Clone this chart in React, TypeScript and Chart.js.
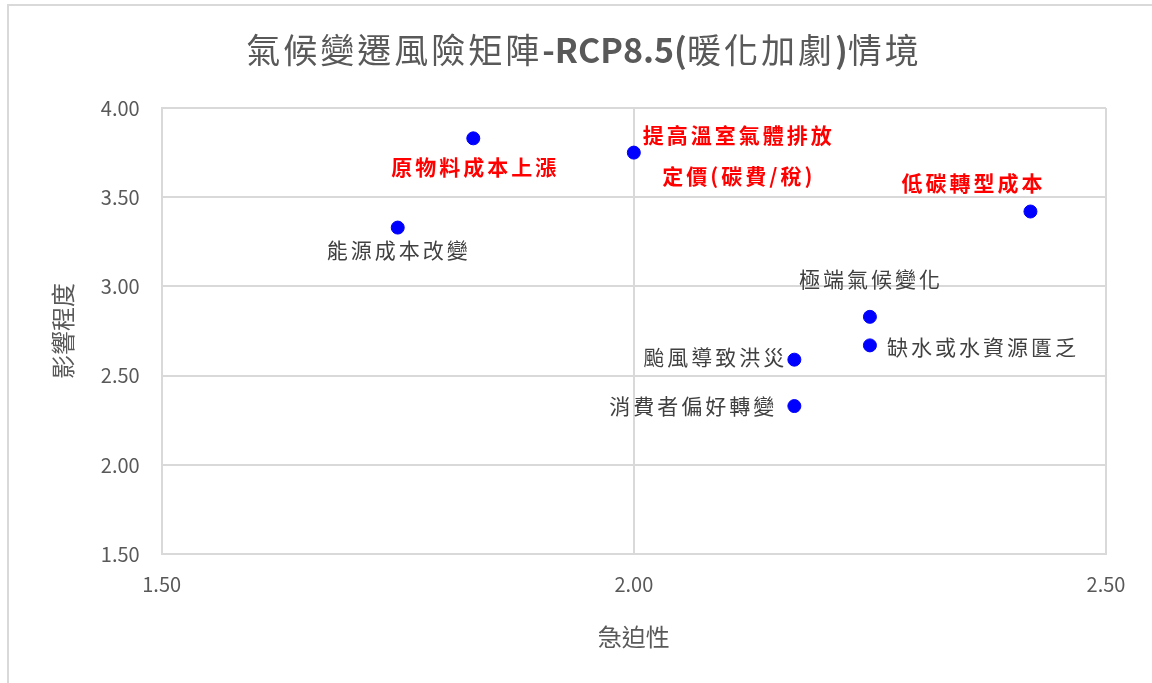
import React, { useEffect, useRef } from "react";
import { Chart, registerables } from "chart.js";

Chart.register(...registerables);

const riskNames = [
  "原物料成本上漲",
  "提高溫室氣體排放\n定價(碳費/稅)",
  "低碳轉型成本",
  "能源成本改變",
  "極端氣候變化",
  "缺水或水資源匱乏",
  "颱風導致洪災",
  "消費者偏好轉變",
];
const urgency = [1.83, 2.0, 2.42, 1.75, 2.25, 2.25, 2.17, 2.17];
const impact = [3.83, 3.75, 3.42, 3.33, 2.83, 2.67, 2.59, 2.33];
const highlighted = [true, true, true, false, false, false, false, false];

// title pieces: [text, bold]
const titleParts: [string, boolean][] = [
  ["氣候變遷風險矩陣", false],
  ["-RCP8.5(", true],
  ["暖化加劇", false],
  [")", true],
  ["情境", false],
];
const xTitle = "急迫性";
const yTitle = "影響程度";

// label placement (style): dx, dy offsets in px, alignment, line gap
const labelPlacement = [
  { dx: 2, dy: 29, align: "center" },
  { dx: 105, dy: -18, align: "center", lineGap: 41 },
  { dx: -57, dy: -29, align: "center" },
  { dx: 1, dy: 22, align: "center" },
  { dx: 1, dy: -38, align: "center" },
  { dx: 17, dy: 2, align: "left" },
  { dx: -7, dy: -3, align: "right" },
  { dx: -17, dy: 0, align: "right" },
];

const FONT = '"Noto Sans CJK TC", "Noto Sans", sans-serif';

const titlePlugin = {
  id: "mixedTitle",
  afterDraw(chart: any) {
    const ctx = chart.ctx;
    ctx.save();
    ctx.fillStyle = "#595959";
    ctx.textBaseline = "middle";
    ctx.textAlign = "left";
    const fontFor = (b: boolean) => `${b ? "bold " : ""}34px ${FONT}`;
    let total = 0;
    const widths = titleParts.map(([t, b]) => {
      ctx.font = fontFor(b);
      (ctx as any).letterSpacing = b ? "0px" : "3px";
      const w = ctx.measureText(t).width;
      total += w;
      return w;
    });
    let x = chart.width / 2 + 8 - total / 2;
    titleParts.forEach(([t, b], i) => {
      ctx.font = fontFor(b);
      (ctx as any).letterSpacing = b ? "0px" : "3px";
      ctx.fillText(t, x, 50);
      x += widths[i];
    });
    ctx.restore();
  },
};

const labelPlugin = {
  id: "pointLabels",
  afterDatasetsDraw(chart: any) {
    const ctx = chart.ctx;
    const meta = chart.getDatasetMeta(0);
    ctx.save();
    meta.data.forEach((pt: any, i: number) => {
      const p = labelPlacement[i];
      const red = highlighted[i];
      ctx.font = `${red ? "bold " : ""}21px ${FONT}`;
      (ctx as any).letterSpacing = "3px";
      ctx.fillStyle = red ? "#ff0000" : "#404040";
      ctx.textAlign = p.align;
      ctx.textBaseline = "middle";
      const lines = riskNames[i].split("\n");
      lines.forEach((line, k) => {
        ctx.fillText(line, pt.x + p.dx, pt.y + p.dy + k * (p.lineGap || 0));
      });
    });
    ctx.restore();
  },
};

export default function App() {
  const ref = useRef<HTMLCanvasElement>(null);
  useEffect(() => {
    document.body.style.margin = "0";
    document.body.style.overflow = "hidden";
    const chart = new Chart(ref.current!, {
      type: "scatter",
      data: {
        datasets: [
          {
            data: urgency.map((x, i) => ({ x, y: impact[i] })),
            backgroundColor: "#0000ff",
            borderColor: "#0000ff",
            pointRadius: 6.5,
            pointHoverRadius: 6.5,
          },
        ],
      },
      options: {
        responsive: false,
        animation: false,
        layout: { padding: { left: 48, right: 46, top: 108, bottom: 32 } },
        plugins: {
          legend: { display: false },
          tooltip: { enabled: false },
          title: { display: false },
        },
        scales: {
          x: {
            type: "linear",
            min: 1.5,
            max: 2.5,
            ticks: {
              stepSize: 0.5,
              color: "#595959",
              font: { family: FONT, size: 20 },
              padding: 18,
              callback: (v: any) => Number(v).toFixed(2),
            },
            grid: { color: "#d9d9d9", lineWidth: 2, drawTicks: false },
            border: { color: "#d9d9d9", width: 2 },
            title: {
              display: true,
              text: xTitle,
              color: "#595959",
              font: { family: FONT, size: 24 },
              padding: { top: 8, bottom: 0 },
            },
          },
          y: {
            type: "linear",
            min: 1.5,
            max: 4.0,
            ticks: {
              stepSize: 0.5,
              color: "#595959",
              font: { family: FONT, size: 20 },
              padding: 22,
              callback: (v: any) => Number(v).toFixed(2),
            },
            grid: { color: "#d9d9d9", lineWidth: 2, drawTicks: false },
            border: { color: "#d9d9d9", width: 2 },
            title: {
              display: true,
              text: yTitle,
              color: "#595959",
              font: { family: FONT, size: 24 },
              padding: { top: 0, bottom: 2 },
            },
          },
        },
      },
      plugins: [labelPlugin, titlePlugin],
    });
    return () => chart.destroy();
  }, []);
  return (
    <div style={{ position: "fixed", left: 0, top: 0, width: 1152, height: 683, overflow: "hidden", background: "#fff" }}>
      <div
        style={{
          position: "absolute",
          left: 7,
          top: 4,
          width: 1200,
          height: 740,
          border: "2px solid #d9d9d9",
          boxSizing: "border-box",
        }}
      />
      <canvas ref={ref} width={1152} height={683} style={{ position: "absolute", left: 0, top: 0 }} />
    </div>
  );
}
